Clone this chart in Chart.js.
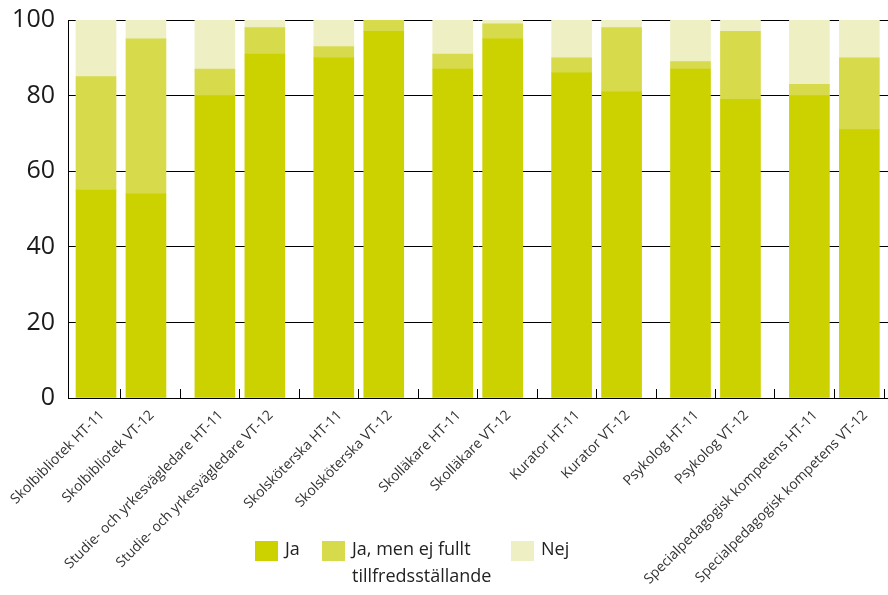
<!DOCTYPE html>
<html lang="sv">
<head>
<meta charset="UTF-8">
<title>Tillgång till elevhälsa och skolbibliotek</title>
<script src="https://cdn.jsdelivr.net/npm/chart.js"></script>
<style>
    html, body { margin: 0; padding: 0; background: #fff; }
    #wrap { position: relative; width: 888px; height: 595px; }
    canvas { display: block; }
    .item { position: absolute; top: 541px; font-family: 'Open Sans', sans-serif; font-size: 18px; line-height: 26.7px; color: #222; }
    .box { position: absolute; left: 0; top: 0; width: 23px; height: 20px; }
    .txt { position: absolute; left: 30px; top: -6px; white-space: nowrap; }
</style>
</head>
<body>
<div id="wrap">
    <canvas id="chart" width="888" height="595"></canvas>
    <div id="legend"></div>
</div>
<script>
    // categories (one per bar)
    const labels = [
        'Skolbibliotek HT-11', 'Skolbibliotek VT-12',
        'Studie- och yrkesvägledare HT-11', 'Studie- och yrkesvägledare VT-12',
        'Skolsköterska HT-11', 'Skolsköterska VT-12',
        'Skolläkare HT-11', 'Skolläkare VT-12',
        'Kurator HT-11', 'Kurator VT-12',
        'Psykolog HT-11', 'Psykolog VT-12',
        'Specialpedagogisk kompetens HT-11', 'Specialpedagogisk kompetens VT-12'
    ];
    // series values (percent)
    const ja    = [55, 54, 80, 91, 90, 97, 87, 95, 86, 81, 87, 79, 80, 71];
    const jaMen = [30, 41,  7,  7,  3,  3,  4,  4,  4, 17,  2, 18,  3, 19];
    const nej   = [15,  5, 13,  2,  7,  0,  9,  1, 10,  2, 11,  3, 17, 10];
    const seriesNames = ['Ja', ['Ja, men ej fullt', 'tillfredsställande'], 'Nej'];
    const yTicks = [0, 20, 40, 60, 80, 100];

    const colors = ['#CCD100', '#D6DA4B', '#EEF0C4'];

    // bars come in HT/VT pairs; x is measured in slots of the 14-slot axis
    const pos = i => Math.floor(i / 2) * 2.03 + 0.478 + (i % 2) * 0.853;

    const datasets = [ja, jaMen, nej].map((arr, k) => ({
        label: Array.isArray(seriesNames[k]) ? seriesNames[k].join(' ') : seriesNames[k],
        data: arr.map((v, i) => ({ x: pos(i), y: v })),
        backgroundColor: colors[k],
        borderWidth: 0,
        barThickness: 40
    }));

    new Chart(document.getElementById('chart'), {
        type: 'bar',
        data: { datasets },
        options: {
            responsive: false,
            animation: false,
            layout: { padding: { top: 20, right: 0, bottom: 0, left: 0 } },
            plugins: { legend: { display: false }, tooltip: { enabled: false } },
            scales: {
                x: {
                    type: 'linear', min: 0, max: 14, stacked: true, offset: false,
                    afterBuildTicks: s => { s.ticks = labels.map((_, i) => ({ value: pos(i) })); },
                    afterFit: s => { s.height = 197; s.paddingLeft = 0; s.paddingRight = 0; },
                    grid: {
                        offset: true, drawOnChartArea: false, drawTicks: true, tickLength: -9, lineWidth: 1,
                        // short inward marks between bars only, none at the two ends
                        color: c => (c.index === 0 || c.index === labels.length) ? 'rgba(0,0,0,0)' : '#000'
                    },
                    border: { display: true, color: '#000', width: 1 },
                    ticks: {
                        autoSkip: false, minRotation: 45, maxRotation: 45,
                        padding: 18, labelOffset: 6, color: '#333',
                        font: { family: 'Open Sans', size: 14 },
                        callback: (v, i) => labels[i]
                    }
                },
                y: {
                    min: 0, max: 100, stacked: true,
                    afterBuildTicks: s => { s.ticks = yTicks.map(v => ({ value: v })); },
                    afterFit: s => { s.width = 68; s.paddingTop = 0; s.paddingBottom = 0; },
                    grid: { color: '#000', lineWidth: 1, drawTicks: false },
                    border: { display: true, color: '#000', width: 1 },
                    ticks: { padding: 13, color: '#1a1a1a', font: { family: 'Open Sans', size: 25 } }
                }
            }
        }
    });

    // legend sits inside the label area, so it is placed by hand
    const legendLeft = [255, 322, 511];
    const legend = document.getElementById('legend');
    seriesNames.forEach((name, k) => {
        const item = document.createElement('div');
        item.className = 'item';
        item.style.left = legendLeft[k] + 'px';
        const box = document.createElement('span');
        box.className = 'box';
        box.style.background = colors[k];
        const txt = document.createElement('span');
        txt.className = 'txt';
        txt.innerHTML = [].concat(name).join('<br>');
        item.appendChild(box);
        item.appendChild(txt);
        legend.appendChild(item);
    });
</script>
</body>
</html>
